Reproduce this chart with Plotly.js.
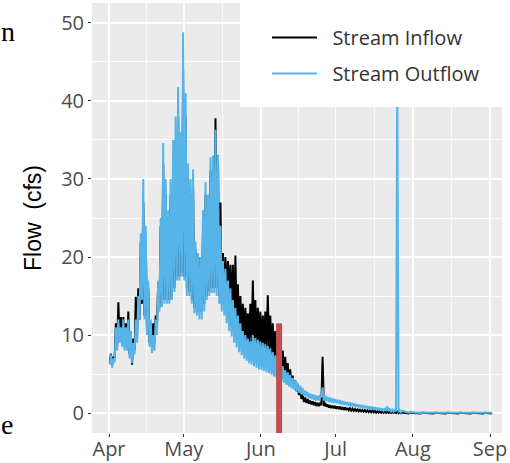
<!DOCTYPE html>
<html>
<head>
<meta charset="utf-8">
<script src="https://cdn.plot.ly/plotly-3.0.1.min.js"></script>
<style>html,body{margin:0;padding:0;background:#fff;}#chart{width:510px;height:463px;}</style>
</head>
<body>
<div id="chart"></div>
<script>
// Days since 1 April (daily diurnal minimum / maximum)
const dayNum = [
  0,1,2,3,4,5,6,7,8,9,10,11,12,13,14,15,16,17,18,19,20,21,22,23,24,25,26,27,28,29,
  30,31,32,33,34,35,36,37,38,39,40,41,42,43,44,45,46,47,48,49,50,51,52,53,54,55,56,57,58,59,
  60,61,62,63,64,65,66,67,68,69,70,71,72,73,74,75,76,77,78,79,80,81,82,83,84,85,86,87,88,89,
  90,91,92,93,94,95,96,97,98,99,100,101,102,103,104,105,106,107,108,109,110,111,112,113,114,115,116,117,
  120,125,130,135,140,145,150,153
];
const outflowMax = [
  7.5,7,11,12,11,12,11,12,10.5,9,12,15,23,30,24,17,12,10,12,17,25,34.6,30,26,30,35,38,41.8,36,48.8,
  41,32,30,31.2,22,20.5,20,26,29.6,28,32.8,33,36.3,33,24,19.5,18.5,17,16,14.5,13.5,12.5,11.5,10.5,10,9.5,9.2,10,9.6,9.4,
  9.2,9,8.8,8.6,8.3,7.8,7.4,7,6.5,6,5.5,5.2,4.9,4.5,4.2,3.9,3.5,3.2,2.9,2.7,2.5,2.4,2.3,2.2,2.3,3.3,2.3,2.1,2.0,1.9,
  1.8,1.7,1.65,1.55,1.45,1.4,1.35,1.3,1.2,1.1,1.05,1.0,0.95,0.9,0.85,0.8,0.75,0.7,0.65,0.6,0.55,0.85,0.5,0.45,0.4,45,0.35,0.3,
  0.1,0.06,0.05,0.05,0.05,0.05,0.05,0.05
];
const outflowMin = [
  6.2,5.8,6.5,8,9,8.5,8,8,7,6.4,7.5,9,12,14.5,12,10,8.5,7.7,8,10,13,13.6,14,14,14,14.5,15.5,17,17,17.5,
  17,15,15,14,12.8,12.5,12,12,13,14.5,15,15.4,15.4,15,14,13,12.5,11.5,10.5,9.8,9,8.4,7.8,7.4,7,6.7,6.4,6.2,6,5.8,
  5.6,5.5,5.4,5.2,5.1,4.9,4.7,4.5,4.3,4.1,3.9,3.6,3.4,3.2,3.0,2.8,2.6,2.4,2.2,2.1,1.9,1.8,1.7,1.6,1.6,2.0,1.6,1.5,1.4,1.35,
  1.3,1.25,1.2,1.1,1.05,1.0,0.95,0.9,0.85,0.8,0.75,0.7,0.65,0.6,0.5,0.5,0.45,0.4,0.35,0.3,0.3,0.3,0.25,0.2,0.2,0.2,0.1,0.08,
  0.05,0.02,0.02,0.02,0.02,0.02,0.02,0.02
];
const inflowMax = [
  7.6,7.2,11.5,14.2,12.3,12.3,11.5,13,10.5,9.5,14.9,16,22,27,22,16,11.5,11.5,12.5,16.8,24,32,28,25,28,32,35,38,34,44,
  38,30,28,29,21,20,20,24,28,27,31,32,37.8,33,27,20.5,20,19.5,19,19,20.2,16.5,15,14,13.5,12.8,14,17,14.5,13.5,
  13,12.5,13,15.1,12.5,11.5,10.5,9.5,8.8,8,7.2,6.4,5.6,4.8,4.2,3.6,3.0,2.4,2.0,1.8,1.6,1.5,1.4,1.3,1.3,7.2,1.3,1.1,1.0,0.95,
  0.9,0.85,0.8,0.75,0.7,0.65,0.6,0.55,0.5,0.45,0.42,0.4,0.38,0.35,0.32,0.3,0.28,0.25,0.22,0.2,0.18,0.16,0.15,0.14,0.13,0.3,0.1,0.08,
  0.05,0.03,0.03,0.03,0.03,0.03,0.03,0.03
];
const inflowMin = [
  6.5,6.2,7,8.5,9.5,9,8.5,8.5,7.5,6.2,8,9.5,12,14,12.5,10.5,9,8.5,9,11,13.5,14,14.5,14.5,14.5,15,16,17.5,17.5,18,
  17.5,16,15.5,14.5,13.5,13,13,13,14,15,15.5,16,16,16,15,14,14.5,14,13.5,13,12,11.2,10.5,10,9.5,9.2,9,9,8.8,8.6,
  8.5,8.4,8.3,8.2,8,7.5,7,6.5,6,5.5,5,4.6,4.1,3.6,3.2,2.8,2.3,1.8,1.4,1.3,1.2,1.1,1.0,0.9,0.9,1.0,0.9,0.8,0.7,0.65,
  0.6,0.55,0.5,0.45,0.4,0.38,0.35,0.3,0.28,0.25,0.22,0.2,0.18,0.15,0.12,0.1,0.08,0.06,0.05,0.04,0.03,0.02,0.02,0.02,0.02,0.0,-0.02,-0.03,
  -0.05,-0.05,-0.05,-0.05,-0.05,-0.05,-0.05,-0.05
];

// Red marker bar (date and vertical extent)
const markerDate = ['2017-06-08 07:00', '2017-06-08 07:00'];
const markerFlow = [11.5, -3];

// Axis ticks
const monthTicks = ['2017-04-01','2017-05-01','2017-06-01','2017-07-01','2017-08-01','2017-09-01'];
const monthLabels = ['Apr','May','Jun','Jul','Aug','Sep'];
const monthMinor = ['2017-04-16','2017-05-16 12:00','2017-06-16','2017-07-16 12:00','2017-08-16 12:00'];
const flowTicks = [0,10,20,30,40,50];
const flowMinor = [5,15,25,35,45];
const seriesNames = ['\u00a0\u00a0Stream Inflow', '\u00a0\u00a0Stream Outflow'];

const startMs = Date.UTC(2017, 3, 1);
function fmt(dayFrac) {
  return new Date(startMs + dayFrac * 86400000).toISOString().slice(0, 19).replace('T', ' ');
}
function diurnal(mins, maxs) {
  const x = [], y = [];
  for (let i = 0; i < dayNum.length; i++) {
    x.push(fmt(dayNum[i] + 0.25)); y.push(mins[i]);
    x.push(fmt(dayNum[i] + 0.75)); y.push(maxs[i]);
  }
  return {x, y};
}
const inS = diurnal(inflowMin, inflowMax);
const outS = diurnal(outflowMin, outflowMax);

const traces = [
  {x: inS.x, y: inS.y, type: 'scatter', mode: 'lines', name: seriesNames[0],
   line: {color: '#000000', width: 2}, legendgroup: 'a', hoverinfo: 'skip'},
  {x: outS.x, y: outS.y, type: 'scatter', mode: 'lines', name: seriesNames[1],
   line: {color: '#56B4E9', width: 2}, legendgroup: 'b', hoverinfo: 'skip'},
  {x: markerDate, y: markerFlow, type: 'scatter', mode: 'lines', showlegend: false,
   line: {color: '#C0504D', width: 6}, hoverinfo: 'skip'}
];

const W = 410, H = 430, L = 92, T = 3;
function px2x(p) { return (p - L) / W; }
function py2y(p) { return (T + H - p) / H; }

const layout = {
  width: 510, height: 463,
  margin: {l: L, r: 8, t: T, b: 30},
  paper_bgcolor: '#ffffff',
  plot_bgcolor: '#EBEBEB',
  showlegend: true,
  legend: {
    x: px2x(267), y: py2y(18), xanchor: 'left', yanchor: 'top',
    bgcolor: 'rgba(0,0,0,0)', borderwidth: 0,
    font: {family: 'Open Sans', size: 20, color: '#333333'},
    traceorder: 'grouped', tracegroupgap: 7, itemwidth: 45
  },
  xaxis: {
    type: 'date',
    range: ['2017-03-25 04:00', '2017-09-05 19:00'],
    tickvals: monthTicks, ticktext: monthLabels,
    ticks: 'outside', ticklen: 3, tickwidth: 1, tickcolor: '#333333',
    ticklabelstandoff: -5,
    tickfont: {family: 'Open Sans', size: 20, color: '#4D4D4D'},
    showgrid: true, gridcolor: '#ffffff', gridwidth: 1.6,
    minor: {tickvals: monthMinor, showgrid: true, gridcolor: '#ffffff', gridwidth: 0.8, ticks: ''},
    zeroline: false, showline: false, fixedrange: true
  },
  yaxis: {
    range: [-2.56, 52.56],
    tickvals: flowTicks, ticktext: flowTicks.map(String),
    ticks: 'outside', ticklen: 3, tickwidth: 1, tickcolor: '#333333',
    tickfont: {family: 'Open Sans', size: 20, color: '#4D4D4D'},
    showgrid: true, gridcolor: '#ffffff', gridwidth: 1.6,
    minor: {tickvals: flowMinor, showgrid: true, gridcolor: '#ffffff', gridwidth: 0.8, ticks: ''},
    zeroline: false, showline: false, fixedrange: true,
    title: {text: 'Flow\u00a0\u00a0(cfs)', font: {family: 'Liberation Sans', size: 23, color: '#000000'}, standoff: 13}
  },
  shapes: [
    {type: 'rect', xref: 'paper', yref: 'paper', layer: 'above',
     x0: px2x(240), x1: px2x(512), y0: py2y(107), y1: py2y(-2),
     fillcolor: '#ffffff', line: {width: 0}}
  ],
  annotations: [
    {text: 'n', xref: 'paper', yref: 'paper', x: px2x(-1), y: py2y(32), xanchor: 'left', yanchor: 'middle',
     showarrow: false, font: {family: 'Liberation Serif', size: 28, color: '#000000'}},
    {text: 'e', xref: 'paper', yref: 'paper', x: px2x(-1), y: py2y(424), xanchor: 'left', yanchor: 'middle',
     showarrow: false, font: {family: 'Liberation Serif', size: 28, color: '#000000'}}
  ]
};

Plotly.newPlot('chart', traces, layout, {displayModeBar: false, staticPlot: true});
</script>
</body>
</html>
